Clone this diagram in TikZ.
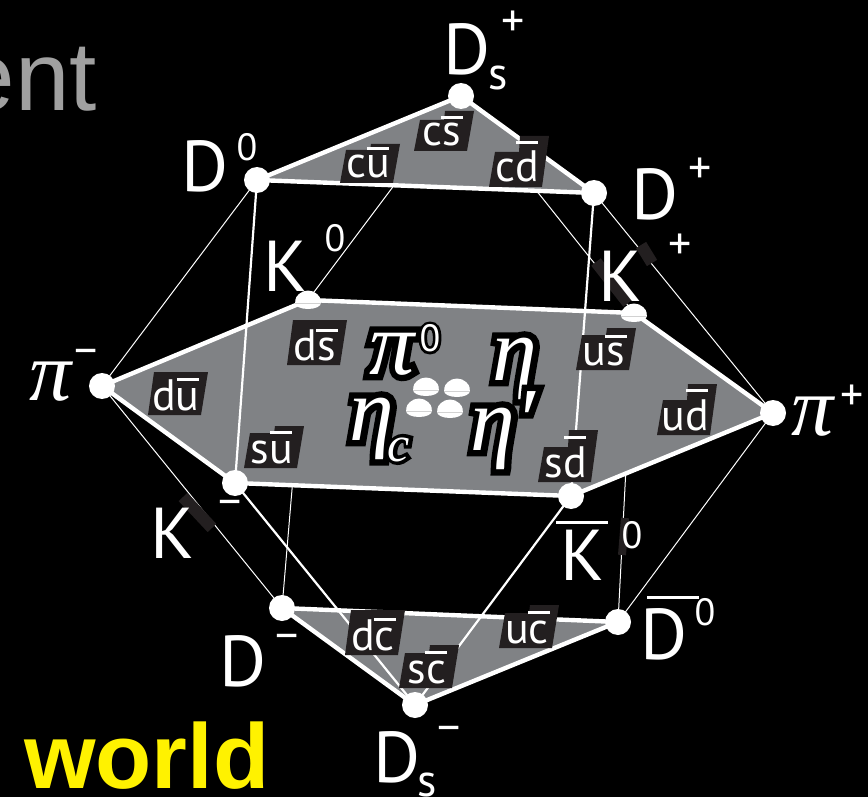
\documentclass[tikz,border=0pt]{standalone}
\usepackage{fontspec}
\setmainfont{PT Sans}
\newfontfamily\arialf{Liberation Sans}
\newfontfamily\gkf{Liberation Serif}
\usetikzlibrary{backgrounds,shapes.geometric}
\pgfdeclarelayer{bgl}\pgfdeclarelayer{thinl}\pgfdeclarelayer{polyl}\pgfdeclarelayer{overl}
\pgfsetlayers{bgl,thinl,polyl,overl,main}
\definecolor{qgray}{HTML}{808285}
\definecolor{qdark}{HTML}{231F20}
\definecolor{headgray}{HTML}{A0A0A0}
\tikzset{
  vertex/.style={circle,fill=white,inner sep=0pt,minimum size=26pt},
  dome/.style={ellipse,fill=white,inner sep=0pt,minimum width=25pt,minimum height=16pt},
  thinedge/.style={white,line width=1pt},
  midedge/.style={white,line width=2.2pt},
  rim/.style={draw=white,fill=qgray,line width=4.4pt,line join=round},
  patch/.style={qdark,line width=12pt},
  txt/.style={inner sep=0pt,anchor=base,text=white},
  ctr/.style={inner sep=0pt,anchor=center,text=white},
}
\newcommand{\fsz}[1]{\fontsize{#1}{#1}\selectfont}
\newcommand{\qb}[3][22pt]{\setbox0\hbox{#3}\rlap{\hbox to \wd0{\hss\smash{\raisebox{#2}{\rule{#1}{3pt}}}\hss}}\box0}
\newcommand{\qbx}[4][22pt]{\setbox0\hbox{#4}\rlap{\hbox to \wd0{\hss\kern#3\smash{\raisebox{#2}{\rule{#1}{3pt}}}\hss}}\box0}
% name x base lefth righth text
\newcommand{\qq}[6]{\begin{scope}[shift={(#2,#3)}]
  \fill[qdark] (-28,5) -- (25,5) -- (32,-#5) -- (3,-#5) -- (2,-#4) -- (-22,-#4) -- cycle;
  \node[txt,font=\fsz{44}] (#1) at (0,0) {#6};
\end{scope}}
\newcommand{\halo}[5]{%
  \node[inner sep=0pt,anchor=base,text=black,font=\gkf\itshape\fsz{#4}\addfontfeature{FakeBold=14}] (#1h) at (#2,#3) {#5};
  \node[inner sep=0pt,anchor=base,text=white,font=\gkf\itshape\fsz{#4}] (#1) at (#2,#3) {#5};}
\begin{document}
\begin{tikzpicture}[x=1pt,y=-1pt]
\useasboundingbox (0,0) rectangle (868,797);
\begin{pgfonlayer}{bgl}
\fill[black] (0,0) rectangle (868,797);
\end{pgfonlayer}
\clip (0,0) rectangle (868,797);
% vertices
\node[vertex] (dsp) at (461,96) {};
\node[vertex] (dz) at (257,180) {};
\node[vertex] (dp) at (594,193) {};
\node[dome] (kz) at (308,300) {};
\node[dome] (kp) at (634,313) {};
\node[vertex] (pim) at (102,386) {};
\node[vertex] (pip) at (773,413) {};
\node[vertex] (km) at (235,483) {};
\node[vertex] (kzb) at (571,496) {};
\node[vertex] (dm) at (282,608) {};
\node[vertex] (dzb) at (618,622) {};
\node[vertex] (dsm) at (415,705) {};
\node[dome] (ca) at (426,387) {};
\node[dome] (cb) at (457,388) {};
\node[dome] (cc) at (419,408) {};
\node[dome] (cd) at (450,409) {};
\foreach \n in {kz,kp,ca,cb,cc,cd}{
  \fill[white] ([shift={(-13,3)}]\n.center) arc[start angle=180,end angle=0,x radius=13pt,y radius=12.5pt] arc[start angle=0,end angle=-180,x radius=13pt,y radius=6pt];
  \draw[gray!35,line width=0.7pt] ([shift={(-13,3)}]\n.center) -- ([shift={(13,3)}]\n.center);
}
% edges
\begin{pgfonlayer}{thinl}
\draw[thinedge] (dsp.center) -- (kz.center);
\draw[thinedge] (dsp.center) -- (kp.center);
\draw[thinedge] (dz.center) -- (pim.center);
\draw[thinedge] (dp.center) -- (pip.center);
\draw[thinedge] (dm.center) -- (pim.center);
\draw[thinedge] (dm.center) -- (kz.center);
\draw[thinedge] (dzb.center) -- (kp.center);
\draw[thinedge] (dzb.center) -- (pip.center);
\end{pgfonlayer}
\begin{pgfonlayer}{polyl}
\draw[rim] (dz.center) -- (dsp.center) -- (dp.center) -- cycle;
\draw[rim] (kz.center) -- (kp.center) -- (pip.center) -- (kzb.center) -- (km.center) -- (pim.center) -- cycle;
\draw[rim] (dm.center) -- (dzb.center) -- (dsm.center) -- cycle;
\end{pgfonlayer}
\begin{pgfonlayer}{overl}
\draw[midedge] (dz.center) -- (km.center);
\draw[midedge] (dp.center) -- (kzb.center);
\draw[midedge] (km.center) -- (dsm.center);
\draw[midedge] (kzb.center) -- (dsm.center);
\end{pgfonlayer}
% dark patches behind letters
\coordinate (pa1) at (596,262); \coordinate (pa2) at (628,303);
\coordinate (pb1) at (641,245); \coordinate (pb2) at (652,263);
\coordinate (pc1) at (183,497); \coordinate (pc2) at (212,528);
\coordinate (pd1) at (625,518); \coordinate (pd2) at (622,555);
\draw[patch] (pa1) -- (pa2);
\draw[patch] (pb1) -- (pb2);
\draw[patch] (pc1) -- (pc2);
\draw[patch,line width=8pt] (pd1) -- (pd2);
% heading fragments
\node[inner sep=0pt,anchor=base east,text=headgray,font=\arialf\fsz{98}] (ent) at (97,111) {ent};
\node[inner sep=0pt,anchor=base west,text=yellow,font=\arialf\bfseries\fsz{92}] (world) at (24,788) {world};
% quark labels
\qq{cu}{368}{178}{28}{34}{c\qb{28pt}{u}}
\qq{cs}{442}{146}{26}{35}{c\qb{27pt}{s}}
\qq{cdb}{517}{182}{30}{46}{c\qb{38pt}{d}}
\qq{ds}{315}{360}{40}{40}{d\qb{28pt}{s}}
\qq{us}{604}{365}{30}{37}{u\qb{27pt}{s}}
\qq{du}{176}{410}{38}{38}{d\qb{29pt}{u}}
\qq{ud}{685}{430}{30}{46}{u\qb{38pt}{d}}
\qq{su}{272}{463}{30}{37}{s\qb{29pt}{u}}
\qq{sd}{566}{477}{30}{47}{s\qb{38pt}{d}}
\qq{dc}{373}{650}{40}{40}{d\qb{29pt}{c}}
\qq{uc}{527}{643}{30}{38}{u\qb{29pt}{c}}
\qq{sc}{427}{683}{30}{38}{s\qb{29pt}{c}}
% Greek labels
\halo{pz}{392}{374}{90}{π}
\node[ctr,font=\fsz{38}\addfontfeature{FakeBold=14},text=black] (pzsh) at (430,338) {0};
\node[ctr,font=\fsz{38},text=white] (pzs) at (430,338) {0};
\halo{eta}{515}{380}{90}{η}
\halo{etc}{372}{440}{90}{η}
\halo{etcs}{399}{461}{50}{c}
\halo{etp}{503}{450}{90}{η′}
% meson names
\node[txt,font=\fsz{72}] (tdsp) at (467,75) {D};
\node[txt,font=\fsz{46}] (tdsps) at (498,90) {s};
\node[ctr,font=\fsz{46}] (tdspc) at (513,24) {+};
\node[txt,font=\fsz{72}] (tdz) at (205,192) {D};
\node[ctr,font=\fsz{38}] (tdzc) at (247,147) {0};
\node[txt,font=\fsz{72}] (tdp) at (655,219) {D};
\node[ctr,font=\fsz{46}] (tdpc) at (700,171) {+};
\node[txt,font=\fsz{72}] (tkz) at (285,291) {K};
\node[ctr,font=\fsz{38}] (tkzc) at (335,238) {0};
\node[txt,font=\fsz{72}] (tkp) at (620,301) {K};
\node[ctr,font=\fsz{46}] (tkpc) at (680,247) {+};
\node[txt,font=\gkf\itshape\fsz{84}] (tpim) at (51,400) {π};
\node[ctr,font=\fsz{46}] (tpimc) at (86,358) {−};
\node[txt,font=\gkf\itshape\fsz{84}] (tpip) at (813,435) {π};
\node[ctr,font=\fsz{46}] (tpipc) at (852,398) {+};
\node[txt,font=\fsz{72}] (tkm) at (172,558) {K};
\node[ctr,font=\fsz{46}] (tkmc) at (230,509) {−};
\node[txt,font=\fsz{72}] (tkzb) at (582,580) {\qb[52pt]{56pt}{K}};
\node[ctr,font=\fsz{38}] (tkzbc) at (632,535) {0};
\node[txt,font=\fsz{72}] (tdm) at (243,686) {D};
\node[ctr,font=\fsz{46}] (tdmc) at (287,643) {−};
\node[txt,font=\fsz{72}] (tdzb) at (664,659) {\qbx[52pt]{60pt}{18pt}{D}};
\node[ctr,font=\fsz{38}] (tdzbc) at (705,612) {0};
\node[txt,font=\fsz{72}] (tdsm) at (397,782) {D};
\node[txt,font=\fsz{46}] (tdsms) at (427,796) {s};
\node[ctr,font=\fsz{46}] (tdsmc) at (449,735) {−};
\end{tikzpicture}
\end{document}
